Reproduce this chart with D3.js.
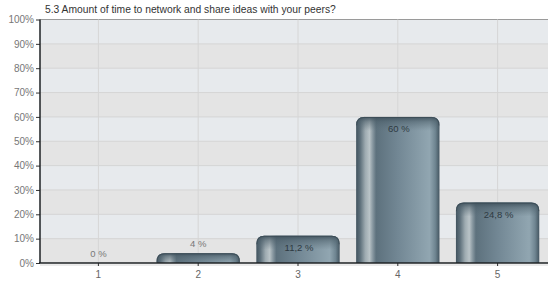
<!DOCTYPE html>
<html>
<head>
<meta charset="utf-8">
<script src="https://cdn.jsdelivr.net/npm/d3@7/dist/d3.min.js"></script>
<style>
  body { margin: 0; background: #fff; }
  text { font-family: "Liberation Sans", Arial, sans-serif; }
</style>
</head>
<body>
<div id="chart"></div>
<script>
// chart data
var title = "5.3 Amount of time to network and share ideas with your peers?";
var categories = ["1", "2", "3", "4", "5"];
var values = [0, 4, 11.2, 60, 24.8];
var valueLabels = ["0 %", "4 %", "11,2 %", "60 %", "24,8 %"];
var yTicks = [0, 10, 20, 30, 40, 50, 60, 70, 80, 90, 100];

var W = 550, H = 282,
    pLeft = 40, pRight = 548, pTop = 19.5, pBottom = 263;

var svg = d3.select('#chart').append('svg').attr('width', W).attr('height', H);

var y = d3.scaleLinear().domain([0, 100]).range([pBottom, pTop]);
var x = d3.scaleBand().domain(categories).range([48.5, 547.5]).paddingInner(0.165).paddingOuter(0.0825);

// gradients for the bars
var defs = svg.append('defs');
var g1 = defs.append('linearGradient').attr('id', 'barGrad').attr('x1', 0).attr('x2', 1).attr('y1', 0).attr('y2', 0);
[[0, '#41535e'], [0.05, '#5f717c'], [0.11, '#9eabb1'], [0.16, '#b9c3c7'], [0.2, '#8797a0'], [0.24, '#5d717d'],
 [0.5, '#728794'], [0.88, '#91a6b1'], [0.95, '#6f8591'], [1, '#445661']].forEach(function(s) {
  g1.append('stop').attr('offset', s[0]).attr('stop-color', s[1]);
});
var g2 = defs.append('linearGradient').attr('id', 'topGrad').attr('x1', 0).attr('x2', 0).attr('y1', 0).attr('y2', 1);
g2.append('stop').attr('offset', 0).attr('stop-color', '#3f515c').attr('stop-opacity', 0.95);
g2.append('stop').attr('offset', 0.35).attr('stop-color', '#4c5f6a').attr('stop-opacity', 0.55);
g2.append('stop').attr('offset', 1).attr('stop-color', '#5a6d78').attr('stop-opacity', 0);

// background bands
var bands = d3.range(10);
svg.append('g').selectAll('rect').data(bands).enter().append('rect')
  .attr('x', pLeft).attr('width', pRight - pLeft)
  .attr('y', function(d) { return y((d + 1) * 10); })
  .attr('height', function(d) { return y(d * 10) - y((d + 1) * 10); })
  .attr('fill', function(d) { return d % 2 ? '#e7eaed' : '#e4e4e4'; });

// grid lines
svg.append('g').selectAll('line').data(yTicks.slice(1)).enter().append('line')
  .attr('x1', pLeft).attr('x2', pRight)
  .attr('y1', function(d) { return y(d); }).attr('y2', function(d) { return y(d); })
  .attr('stroke', function(d) { return d === 100 ? '#9a9a9a' : '#d4d4d4'; }).attr('stroke-width', 1);
svg.append('g').selectAll('line').data(categories).enter().append('line')
  .attr('x1', function(d) { return x(d) + x.bandwidth() / 2; })
  .attr('x2', function(d) { return x(d) + x.bandwidth() / 2; })
  .attr('y1', pTop).attr('y2', pBottom)
  .attr('stroke', '#d6d6d6');

// bars
var r = 8;
function barPath(x0, w, yt, yb) {
  var rr = Math.min(r, (yb - yt), w / 2);
  return 'M' + x0 + ',' + yb + 'L' + x0 + ',' + (yt + rr) +
    'Q' + x0 + ',' + yt + ' ' + (x0 + rr) + ',' + yt +
    'L' + (x0 + w - rr) + ',' + yt +
    'Q' + (x0 + w) + ',' + yt + ' ' + (x0 + w) + ',' + (yt + rr) +
    'L' + (x0 + w) + ',' + yb + 'Z';
}
var barData = values.map(function(v, i) { return {cat: categories[i], v: v}; });
var bars = svg.append('g').selectAll('g').data(barData.filter(function(d) { return d.v > 0; }))
  .enter().append('g');
bars.append('path')
  .attr('d', function(d) { return barPath(x(d.cat), x.bandwidth(), y(d.v), pBottom); })
  .attr('fill', 'url(#barGrad)');
bars.append('path')
  .attr('d', function(d) {
    var yt = y(d.v), h = Math.min(14, pBottom - yt);
    return barPath(x(d.cat), x.bandwidth(), yt, yt + h);
  })
  .attr('fill', 'url(#topGrad)');
bars.append('path')
  .attr('d', function(d) {
    var x0 = x(d.cat), w = x.bandwidth(), yt = y(d.v) + 0.5;
    return 'M' + (x0 + 0.5) + ',' + (yt + r) + 'Q' + (x0 + 0.5) + ',' + yt + ' ' + (x0 + r) + ',' + yt +
      'L' + (x0 + w - r) + ',' + yt + 'Q' + (x0 + w - 0.5) + ',' + yt + ' ' + (x0 + w - 0.5) + ',' + (yt + r);
  })
  .attr('fill', 'none').attr('stroke', '#3a4a54').attr('stroke-width', 1).attr('stroke-opacity', 0.8);

// value labels
svg.append('g').selectAll('text').data(barData).enter().append('text')
  .attr('x', function(d) { return x(d.cat) + x.bandwidth() / 2 + (d.v > 10 ? 1 : 0); })
  .attr('y', function(d) { return d.v > 10 ? y(d.v) + 15 : y(d.v) - 6; })
  .attr('text-anchor', 'middle')
  .attr('font-size', '9.5px')
  .attr('fill', function(d) { return d.v > 10 ? '#2e3a42' : '#777'; })
  .text(function(d, i) { return valueLabels[i]; });

// axes
var yAxis = d3.axisLeft(y).tickValues(yTicks).tickSize(4).tickPadding(2).tickFormat(function(d) { return d + '%'; });
var gy = svg.append('g').attr('transform', 'translate(' + pLeft + ',0)').call(yAxis);
gy.select('.domain').remove();
gy.selectAll('.tick line').attr('stroke', '#333');
gy.selectAll('.tick text').attr('fill', '#777').attr('font-size', '10px').attr('font-family', '"Liberation Sans", Arial, sans-serif');

var xAxis = d3.axisBottom(x).tickSize(3).tickPadding(5);
var gx = svg.append('g').attr('transform', 'translate(0,' + pBottom + ')').call(xAxis);
gx.select('.domain').remove();
gx.selectAll('.tick line').attr('stroke', '#333');
gx.selectAll('.tick text').attr('fill', '#666').attr('font-size', '10px').attr('font-family', '"Liberation Sans", Arial, sans-serif');

// axis lines and shadow
svg.append('line').attr('x1', pLeft).attr('x2', pRight).attr('y1', pBottom + 2).attr('y2', pBottom + 2)
  .attr('stroke', '#000').attr('stroke-opacity', 0.08).attr('stroke-width', 2);
svg.append('line').attr('x1', pLeft).attr('x2', pLeft).attr('y1', pTop).attr('y2', pBottom)
  .attr('stroke', '#1e2224').attr('stroke-width', 1.5);
svg.append('line').attr('x1', pLeft - 1).attr('x2', pRight).attr('y1', pBottom).attr('y2', pBottom)
  .attr('stroke', '#1e2224').attr('stroke-width', 1.5);

// title
svg.append('text').attr('x', 45).attr('y', 13).attr('font-size', '10.3px').attr('fill', '#333').text(title);
</script>
</body>
</html>
